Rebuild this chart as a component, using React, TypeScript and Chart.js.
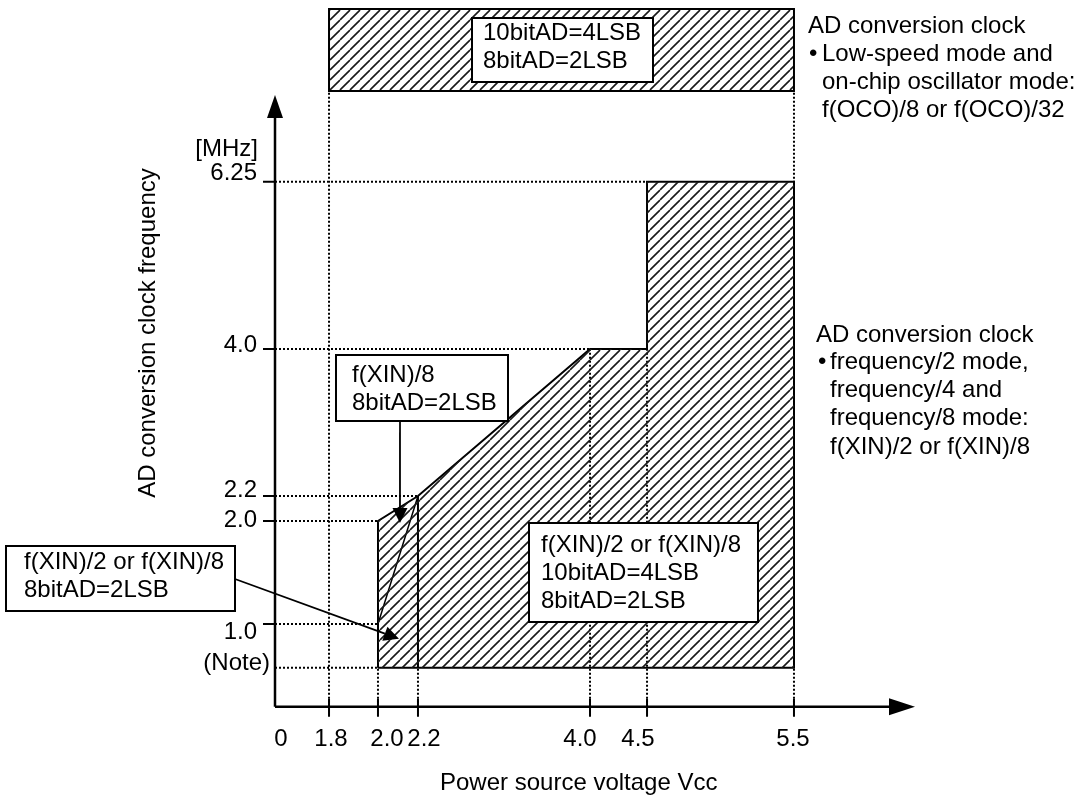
import React, { useEffect, useRef } from 'react';
import { Chart, registerables, LinearScale } from 'chart.js';

// ---------------- data ----------------
const xTickValues = [0, 1.8, 2.0, 2.2, 4.0, 4.5, 5.5];
const xTickLabels = ['0', '1.8', '2.0', '2.2', '4.0', '4.5', '5.5'];
const noteFreq = 0.5; // "(Note)" minimum frequency, schematic
const yTickValues = [noteFreq, 1.0, 2.0, 2.2, 4.0, 6.25];
const yTickLabels = ['(Note)', '1.0', '2.0', '2.2', '4.0', '6.25'];
// upper boundary of the operating region (Vcc [V], f [MHz])
const boundaryVcc = [2.0, 2.2, 4.0, 4.5, 4.5, 5.5];
const boundaryFreq = [2.0, 2.2, 4.0, 4.0, 6.25, 6.25];
const dividerVcc = 2.2; // 8bit-only strip | full region
const diagonalVcc = [2.0, 2.2];
const diagonalFreq = [1.0, 2.2];
const lowSpeedVcc = [1.8, 5.5];
// dotted guides: [freq, Vcc reached]
const hGuideFreq = [6.25, 4.0, 2.2, 2.0, 1.0, noteFreq];
const hGuideVcc = [4.5, 4.0, 2.2, 2.0, 2.0, 2.0];
// vertical guides: [Vcc, freq reached] (null = up to the low-speed band)
const vGuideVcc = [1.8, 2.0, 2.2, 4.0, 4.5, 5.5];
const vGuideFreq: (number | null)[] = [null, noteFreq, noteFreq, 4.0, 4.0, null];

// ---------------- layout (schematic axis breakpoints) ----------------
const KNOTS: Record<string, number[][]> = {
  x: [[0, 0], [1.8, 0.0844], [2.0, 0.1609], [2.2, 0.2234], [4.0, 0.4922], [4.5, 0.5813], [5.5, 0.8109], [6.3, 1]],
  y: [[0, 0], [noteFreq, 0.0638], [1.0, 0.1352], [2.0, 0.3036], [2.2, 0.3444], [4.0, 0.5848], [6.25, 0.8583], [7.0, 1]],
};

class PiecewiseScale extends LinearScale {
  static id = 'piecewise';
  static defaults = { ticks: { callback: (v: any) => String(v) } };
  getPixelForValue(value: any) {
    if (value === null || value === undefined || isNaN(value)) return NaN;
    const k = KNOTS[(this as any).id];
    let i = 0;
    while (i < k.length - 2 && value > k[i + 1][0]) i++;
    const [v0, f0] = k[i];
    const [v1, f1] = k[i + 1];
    const f = f0 + ((value - v0) * (f1 - f0)) / (v1 - v0);
    return (this as any).getPixelForDecimal(f);
  }
  getValueForPixel(pixel: number) {
    const f = (this as any).getDecimalForPixel(pixel);
    const k = KNOTS[(this as any).id];
    let i = 0;
    while (i < k.length - 2 && f > k[i + 1][1]) i++;
    const [v0, f0] = k[i];
    const [v1, f1] = k[i + 1];
    return v0 + ((f - f0) * (v1 - v0)) / (f1 - f0);
  }
}

Chart.register(...registerables, PiecewiseScale as any);

const FONT = '24px "Liberation Sans", Arial, Helvetica, sans-serif';

function makeHatch(spacing: number, lw: number, color: string) {
  const c = document.createElement('canvas');
  c.width = spacing;
  c.height = spacing;
  const g = c.getContext('2d')!;
  g.strokeStyle = color;
  g.lineWidth = lw;
  g.beginPath();
  for (const off of [-spacing, 0, spacing]) {
    g.moveTo(off, spacing);
    g.lineTo(off + spacing, 0);
  }
  g.stroke();
  return g.createPattern(c, 'repeat')!;
}

function arrow(ctx: CanvasRenderingContext2D, x0: number, y0: number, x1: number, y1: number) {
  const ang = Math.atan2(y1 - y0, x1 - x0);
  const L = 15, W = 7.5;
  const bx = x1 - L * Math.cos(ang), by = y1 - L * Math.sin(ang);
  ctx.beginPath();
  ctx.moveTo(x0, y0);
  ctx.lineTo(bx, by);
  ctx.lineWidth = 1.8;
  ctx.stroke();
  ctx.beginPath();
  ctx.moveTo(x1, y1);
  ctx.lineTo(bx + W * Math.sin(ang), by - W * Math.cos(ang));
  ctx.lineTo(bx - W * Math.sin(ang), by + W * Math.cos(ang));
  ctx.closePath();
  ctx.fill();
}

function textBox(ctx: CanvasRenderingContext2D, l: number, t: number, r: number, b: number, tx: number, lines: string[], ys: number[]) {
  ctx.fillStyle = '#fff';
  ctx.fillRect(l, t, r - l, b - t);
  ctx.lineWidth = 2;
  ctx.strokeStyle = '#000';
  ctx.strokeRect(l, t, r - l, b - t);
  ctx.fillStyle = '#000';
  ctx.textAlign = 'left';
  ctx.textBaseline = 'middle';
  lines.forEach((s, i) => ctx.fillText(s, tx, ys[i]));
}

export default function App() {
  const ref = useRef<HTMLCanvasElement>(null);
  useEffect(() => {
    const canvas = ref.current!;
    const ctx = canvas.getContext('2d')!;
    const hatch = makeHatch(10, 1.6, '#1a1a1a');

    const diagram = {
      id: 'diagram',
      beforeDatasetsDraw(chart: any) {
        const { ctx, chartArea: a } = chart;
        const xs = chart.scales.x, ys = chart.scales.y;
        const X = (v: number) => xs.getPixelForValue(v);
        const Y = (v: number) => ys.getPixelForValue(v);
        const bandTop = a.top - 86, bandBottom = a.top - 4;
        ctx.save();
        // dotted guides
        ctx.strokeStyle = '#000';
        ctx.lineWidth = 2;
        ctx.setLineDash([2, 2]);
        ctx.beginPath();
        hGuideFreq.forEach((f, i) => {
          ctx.moveTo(a.left, Y(f));
          ctx.lineTo(X(hGuideVcc[i]), Y(f));
        });
        vGuideVcc.forEach((v, i) => {
          const f = vGuideFreq[i];
          ctx.moveTo(X(v), a.bottom);
          ctx.lineTo(X(v), f === null ? bandBottom : Y(f));
        });
        ctx.stroke();
        ctx.setLineDash([]);
        // low-speed band
        const l = X(lowSpeedVcc[0]), r = X(lowSpeedVcc[1]);
        ctx.fillStyle = hatch;
        ctx.fillRect(l, bandTop, r - l, bandBottom - bandTop);
        ctx.lineWidth = 2;
        ctx.strokeRect(l, bandTop, r - l, bandBottom - bandTop);
        // axes
        ctx.lineWidth = 2.5;
        ctx.beginPath();
        ctx.moveTo(a.left, a.bottom);
        ctx.lineTo(a.right - 20, a.bottom);
        ctx.moveTo(a.left, a.bottom);
        ctx.lineTo(a.left, a.top + 18);
        ctx.stroke();
        ctx.fillStyle = '#000';
        ctx.beginPath();
        ctx.moveTo(a.right, a.bottom);
        ctx.lineTo(a.right - 26, a.bottom - 8.5);
        ctx.lineTo(a.right - 26, a.bottom + 8.5);
        ctx.closePath();
        ctx.fill();
        ctx.beginPath();
        ctx.moveTo(a.left, a.top);
        ctx.lineTo(a.left - 8, a.top + 23);
        ctx.lineTo(a.left + 8, a.top + 23);
        ctx.closePath();
        ctx.fill();
        // ticks
        ctx.lineWidth = 2;
        ctx.beginPath();
        yTickValues.forEach((v) => {
          if (v === noteFreq) return;
          ctx.moveTo(a.left - 12, Y(v));
          ctx.lineTo(a.left, Y(v));
        });
        xTickValues.forEach((v) => {
          if (v === 0) return;
          ctx.moveTo(X(v), a.bottom - 8);
          ctx.lineTo(X(v), a.bottom + 10);
        });
        ctx.stroke();
        ctx.restore();
      },
      afterDatasetsDraw(chart: any) {
        const { ctx, chartArea: a } = chart;
        const xs = chart.scales.x, ys = chart.scales.y;
        const X = (v: number) => xs.getPixelForValue(v);
        const Y = (v: number) => ys.getPixelForValue(v);
        ctx.save();
        ctx.font = FONT;
        ctx.fillStyle = '#000';
        ctx.strokeStyle = '#000';

        // boxes
        textBox(ctx, 472, 18, 653, 82, 483, ['10bitAD=4LSB', '8bitAD=2LSB'], [33, 61]);
        textBox(ctx, 336, 355, 508, 421, 352, ['f(XIN)/8', '8bitAD=2LSB'], [375, 403]);
        textBox(ctx, 6, 546, 235, 611, 24, ['f(XIN)/2 or f(XIN)/8', '8bitAD=2LSB'], [562, 590]);
        textBox(ctx, 529, 523, 758, 622, 541, ['f(XIN)/2 or f(XIN)/8', '10bitAD=4LSB', '8bitAD=2LSB'], [545, 573, 601]);

        // arrows
        ctx.fillStyle = '#000';
        arrow(ctx, 400, 421, X(2.11), Y(1.98));
        arrow(ctx, 235, 579, X(2.105), Y(0.83));

        // tick labels
        ctx.fillStyle = '#000';
        ctx.textBaseline = 'middle';
        ctx.textAlign = 'right';
        const yOff = [-4, 8, -1, -6, -4, -8];
        yTickValues.forEach((v, i) => {
          const right = v === noteFreq ? a.left - 5 : a.left - 18;
          ctx.fillText(yTickLabels[i], right, Y(v) + yOff[i]);
        });
        ctx.fillText('[MHz]', a.left - 17, Y(6.25) - 32);
        ctx.textAlign = 'center';
        const xOff = [6, 2, 9, 6, -10, -9, -1];
        xTickValues.forEach((v, i) => {
          ctx.fillText(xTickLabels[i], X(v) + xOff[i], a.bottom + 33);
        });

        // axis titles
        ctx.textAlign = 'left';
        ctx.fillText('Power source voltage Vcc', 440, 783);
        ctx.save();
        ctx.translate(148, 333);
        ctx.rotate(-Math.PI / 2);
        ctx.textAlign = 'center';
        ctx.fillText('AD conversion clock frequency', 0, 0);
        ctx.restore();

        // side notes
        ctx.textAlign = 'left';
        ctx.fillText('AD conversion clock', 808, 26);
        ctx.fillText('•', 809, 54);
        ctx.fillText('Low-speed mode and', 822, 54);
        ctx.fillText('on-chip oscillator mode:', 822, 82);
        ctx.fillText('f(OCO)/8 or f(OCO)/32', 822, 110);

        ctx.fillText('AD conversion clock', 816, 335);
        ctx.fillText('•', 818, 362);
        ctx.fillText('frequency/2 mode,', 830, 362);
        ctx.fillText('frequency/4 and', 830, 390);
        ctx.fillText('frequency/8 mode:', 830, 418);
        ctx.fillText('f(XIN)/2 or f(XIN)/8', 830, 447);
        ctx.restore();
      },
    };

    const region = boundaryVcc.map((x, i) => ({ x, y: boundaryFreq[i] }));
    const outline = [
      { x: boundaryVcc[0], y: noteFreq },
      ...region,
      { x: boundaryVcc[boundaryVcc.length - 1], y: noteFreq },
      { x: boundaryVcc[0], y: noteFreq },
    ];
    const divider = [
      { x: dividerVcc, y: noteFreq },
      { x: dividerVcc, y: boundaryFreq[boundaryVcc.indexOf(dividerVcc)] },
    ];
    const diagonal = diagonalVcc.map((x, i) => ({ x, y: diagonalFreq[i] }));

    const chart = new Chart(ctx, {
      type: 'line',
      data: {
        datasets: [
          {
            data: region,
            fill: { value: noteFreq },
            backgroundColor: hatch,
            borderColor: 'rgba(0,0,0,0)',
            borderWidth: 0,
            pointRadius: 0,
            tension: 0,
          },
          { data: outline, fill: false, borderColor: '#000', borderWidth: 2, pointRadius: 0, tension: 0, borderJoinStyle: 'miter' },
          { data: divider, fill: false, borderColor: '#000', borderWidth: 2, pointRadius: 0 },
          { data: diagonal, fill: false, borderColor: '#000', borderWidth: 1.5, pointRadius: 0 },
        ] as any,
      },
      options: {
        animation: false,
        responsive: true,
        maintainAspectRatio: false,
        layout: { padding: { left: 275, right: 162, top: 95, bottom: 89.3 } },
        plugins: { legend: { display: false }, tooltip: { enabled: false } },
        events: [],
        scales: {
          x: { type: 'piecewise' as any, axis: 'x', min: 0, max: 6.3, display: false },
          y: { type: 'piecewise' as any, axis: 'y', min: 0, max: 7.0, display: false },
        } as any,
      },
      plugins: [diagram],
    });
    return () => chart.destroy();
  }, []);

  return (
    <div style={{ position: 'absolute', left: 0, top: 0, width: 1077, height: 796, background: '#fff' }}>
      <canvas ref={ref} style={{ display: 'block' }} />
    </div>
  );
}
